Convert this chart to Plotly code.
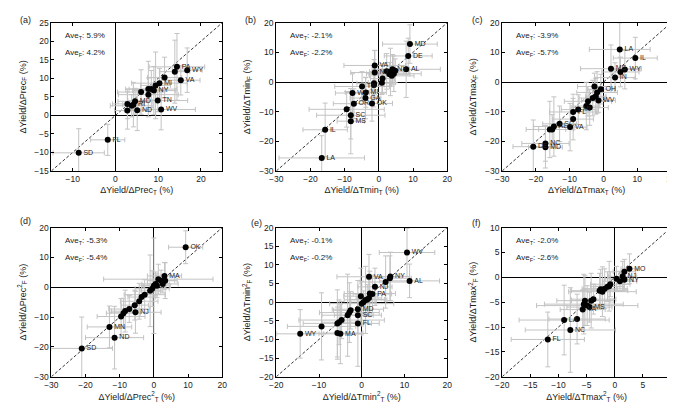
import plotly.graph_objects as go
from plotly.subplots import make_subplots

# ---------------- data ----------------
# panel (a) precipitation
lab_a = ["SD","FL","","","RI","MD","ND","","","","","","NY","","MI","","TN","WV","VA","","PA","WY"]
x_a = [-8.6,-1.8,2.8,2.8,4.2,4.6,5.1,3.8,6.0,7.7,7.7,8.4,9.0,9.4,10.3,11.5,9.9,10.7,15.3,13.9,14.4,16.8]
y_a = [-10.1,-6.6,1.3,3.1,2.9,3.8,1.4,2.6,6.3,5.6,7.1,7.1,6.7,8.1,8.7,10.2,4.0,1.6,9.5,11.8,13.1,12.2]
ex_a = [6.0,4.0,3.0,3.5,2.5,4.0,3.0,5.0,5.5,7.0,4.5,6.0,5.0,3.5,6.5,4.0,7.0,8.0,4.5,3.5,6.5,3.5]
ey_a = [6.5,4.2,5.0,4.0,6.0,3.5,5.5,3.0,6.0,4.5,7.5,5.0,6.5,9.0,4.0,5.5,3.0,5.5,4.0,8.5,9.0,6.0]

# panel (b) Tmin
lab_b = ["LA","IL","","SC","MS","OR","WI","TN","MI","GA","OK","","","VA","NJ","","","","","","NY","","","","AL","DE","MD"]
x_b = [-16.7,-15.7,-9.4,-8.2,-8.2,-7.3,-7.7,-4.9,-3.8,-3.9,-2.0,-1.4,-1.4,-1.2,-1.2,0.9,1.1,2.3,3.1,3.4,4.0,4.4,4.8,3.8,8.0,8.6,9.1]
y_b = [-25.6,-16.1,-9.2,-11.2,-13.2,-7.3,-3.7,-1.5,-3.5,-5.4,-7.2,-0.4,-1.0,5.6,3.2,-0.2,1.2,3.6,2.6,3.4,4.3,2.8,3.8,2.1,4.3,8.8,12.8]
ex_b = [12.5,6.5,11.0,10.0,4.0,6.0,5.0,8.0,6.0,4.5,6.0,5.0,3.0,9.0,7.0,4.0,3.5,5.0,6.0,4.0,5.0,8.0,4.0,6.5,10.0,7.0,8.0]
ey_b = [7.5,9.0,6.0,8.0,11.0,5.0,6.5,5.0,5.0,7.0,6.0,8.0,4.0,5.0,7.5,4.0,5.0,6.0,4.0,8.0,5.0,6.0,4.0,3.5,9.5,6.0,6.5]

# panel (c) Tmax
lab_c = ["DE","NC","MD","","","AL","SC","VA","","FL","MI","","","","","","OH","","WV","","IN","MS","","WY","LA","IL"]
x_c = [-20.8,-17.2,-17.2,-15.9,-15.2,-14.7,-13.0,-9.9,-9.0,-9.0,-7.5,-5.1,-4.1,-4.6,-3.2,-2.7,-0.8,-1.9,-1.5,-2.3,3.4,2.2,5.0,6.3,4.8,9.4]
y_c = [-21.8,-20.7,-22.0,-16.0,-16.0,-15.0,-14.1,-15.2,-12.5,-10.1,-9.3,-8.1,-8.6,-6.5,-5.4,-1.5,-2.4,-3.5,-6.2,-4.8,1.5,4.5,3.4,4.2,11.0,8.1]
ex_c = [6.0,7.0,5.0,7.0,4.0,6.0,5.0,5.0,6.0,7.0,5.0,4.0,5.5,7.0,4.0,5.0,4.0,6.0,5.0,3.0,6.0,9.0,5.5,4.5,9.0,6.5]
ey_c = [9.0,6.0,7.0,9.5,5.0,10.0,6.0,8.0,7.0,6.0,5.0,8.0,6.0,5.0,6.0,4.5,5.0,7.0,4.0,6.0,5.0,8.0,5.0,6.5,9.0,7.0]

# panel (d) Prec^2
lab_d = ["SD","ND","MN","","","","","NJ","","","","","","","","","","","","MA","","","OK"]
x_d = [-21.1,-11.5,-13.0,-9.6,-8.9,-8.4,-7.2,-5.4,-5.6,-4.3,-3.6,-2.7,-1.1,-0.5,0.0,0.5,0.9,1.3,2.1,3.1,3.3,2.6,9.3]
y_d = [-20.5,-16.9,-13.3,-9.8,-8.7,-8.0,-7.3,-8.4,-6.0,-4.7,-3.3,-2.5,-1.2,-0.5,0.5,1.1,0.5,2.7,2.2,3.8,2.2,1.1,13.4]
ex_d = [9.0,8.5,6.5,7.0,5.0,4.0,6.0,7.5,4.0,5.5,4.0,6.0,3.0,5.0,3.5,4.0,4.0,16.0,4.0,5.0,3.5,4.5,5.0]
ey_d = [10.5,10.5,7.0,6.0,5.0,7.0,4.5,7.0,5.0,6.0,4.0,5.0,12.0,6.0,16.0,4.0,4.0,5.0,3.5,4.5,6.0,3.0,5.5]

# panel (e) Tmin^2
lab_e = ["WY","","","MA","","","","","","","SC","MD","FL","","","","","","","","PA","NJ","VA","","","NY","AL","WV"]
x_e = [-14.4,-9.4,-5.7,-5.0,-5.7,-5.3,-4.7,-3.3,-2.9,-2.6,-0.9,-0.9,-0.9,-0.2,0.0,0.4,0.9,1.3,1.7,1.9,2.5,3.1,1.7,5.6,6.6,6.7,11.2,10.6]
y_e = [-8.5,-6.5,-8.3,-8.5,-5.7,-5.4,-4.8,-3.5,-2.8,-2.2,-3.5,-1.9,-5.7,1.6,-0.4,0.0,0.6,0.7,1.1,2.3,2.2,4.1,6.8,5.4,6.4,6.9,5.7,13.3]
ex_e = [5.5,8.0,6.0,5.0,8.0,4.0,10.0,6.0,7.0,4.0,5.5,6.0,5.0,4.0,7.5,3.0,5.0,4.0,3.0,6.0,4.5,4.0,7.5,6.0,5.0,4.5,7.0,6.5]
ey_e = [6.5,9.0,7.0,8.0,9.0,6.0,5.0,11.0,8.0,5.0,5.0,4.0,11.5,7.5,6.0,3.0,9.0,4.0,5.0,6.0,5.0,5.0,6.0,7.0,6.0,6.5,4.5,6.5]

# panel (f) Tmax^2
lab_f = ["FL","LA","NC","","VA","","","","MS","","","","","","","","","","","","NJ","","NY","MO"]
x_f = [-11.9,-9.0,-7.9,-6.7,-5.7,-5.5,-5.3,-4.9,-4.5,-4.2,-3.8,-2.7,-2.5,-2.2,-1.8,-1.3,-1.0,-0.8,0.3,0.9,1.4,1.7,1.7,2.6]
y_f = [-12.5,-8.6,-10.6,-8.4,-6.5,-5.4,-4.7,-5.7,-6.0,-4.7,-4.4,-2.7,-2.4,-2.9,-2.3,-1.9,-1.8,-1.4,-0.3,-0.8,0.2,1.1,-0.5,1.7]
ex_f = [6.5,8.0,8.0,5.0,4.0,7.0,5.0,9.0,4.0,3.5,4.0,5.0,3.0,6.0,4.0,3.0,2.5,3.5,2.0,3.0,2.5,2.0,1.5,1.5]
ey_f = [5.5,7.0,8.5,5.0,4.0,6.0,5.0,4.0,3.0,5.5,3.0,3.5,4.0,5.0,4.0,3.0,5.0,2.5,2.5,2.0,3.0,2.5,2.0,3.0]

ave_T = ["5.9", "-2.1", "-3.9", "-5.3", "-0.1", "-2.0"]
ave_F = ["4.2", "-2.2", "-5.7", "-5.4", "-0.2", "-2.6"]
panel_tags = ["(a)", "(b)", "(c)", "(d)", "(e)", "(f)"]
var_names = ["Prec", "Tmin", "Tmax", "Prec", "Tmin", "Tmax"]
squared = [False, False, False, True, True, True]
x_ranges = [[-15, 25], [-30, 20], [-30, 20], [-30, 20], [-20, 20], [-20, 10]]
y_ranges = [[-15, 25], [-30, 20], [-30, 20], [-30, 20], [-20, 20], [-20, 10]]
x_dticks = [10, 10, 10, 10, 10, 5]
y_dticks = [5, 10, 10, 10, 5, 5]

panels = [
    (x_a, y_a, ex_a, ey_a, lab_a),
    (x_b, y_b, ex_b, ey_b, lab_b),
    (x_c, y_c, ex_c, ey_c, lab_c),
    (x_d, y_d, ex_d, ey_d, lab_d),
    (x_e, y_e, ex_e, ey_e, lab_e),
    (x_f, y_f, ex_f, ey_f, lab_f),
]

# ---------------- figure ----------------
W, H = 675, 403
fig = make_subplots(rows=2, cols=3)

FONT = "Liberation Sans, Arial, sans-serif"
x_dom_px = [(37, 211), (266, 440), (496, 668)]
y_dom_px = [(10, 162), (220, 373)]
tag_pos_px = [(3, 7), (232, 7), (463, 7), (3, 213), (238, 215), (463, 215)]

for i, (xs, ys, exs, eys, labs) in enumerate(panels):
    r, c = i // 3 + 1, i % 3 + 1
    # error bars (drawn first)
    fig.add_trace(go.Scatter(
        x=xs, y=ys, mode="markers",
        marker=dict(size=6, color="rgba(0,0,0,0)"),
        error_x=dict(type="data", array=exs, color="rgb(195,195,195)", thickness=1, width=2.5),
        error_y=dict(type="data", array=eys, color="rgb(195,195,195)", thickness=1, width=2.5),
        showlegend=False, hoverinfo="skip"), row=r, col=c)
    # points and labels
    fig.add_trace(go.Scatter(
        x=xs, y=ys, mode="markers+text", text=labs,
        textposition="middle right",
        textfont=dict(size=7, color="#222", family=FONT),
        marker=dict(size=6, color="black"),
        showlegend=False), row=r, col=c)

    xa = "xaxis" if i == 0 else f"xaxis{i+1}"
    ya = "yaxis" if i == 0 else f"yaxis{i+1}"
    xref = "x" if i == 0 else f"x{i+1}"
    yref = "y" if i == 0 else f"y{i+1}"
    v = var_names[i]
    if squared[i]:
        xt = f"ΔYield/Δ{v}<sup>2</sup><sub>T</sub> (%)"
        yt = f"ΔYield/Δ{v}<sup>2</sup><sub>F</sub> (%)"
    else:
        xt = f"ΔYield/Δ{v}<sub>T</sub> (%)"
        yt = f"ΔYield/Δ{v}<sub>F</sub> (%)"
    x0, x1 = x_dom_px[c - 1]
    y0, y1 = y_dom_px[r - 1]
    common = dict(showline=True, linecolor="black", linewidth=1, mirror="allticks",
                  ticks="inside", ticklen=3, tickcolor="black", showgrid=False,
                  zeroline=True, zerolinecolor="black", zerolinewidth=1,
                  tickfont=dict(size=8.5, family=FONT, color="#222"))
    fig.layout[xa].update(domain=[x0 / W, x1 / W], range=x_ranges[i], dtick=x_dticks[i],
                          title=dict(text=xt, font=dict(size=9, family=FONT, color="#222"), standoff=3),
                          **common)
    fig.layout[ya].update(domain=[1 - y1 / H, 1 - y0 / H], range=y_ranges[i], dtick=y_dticks[i],
                          title=dict(text=yt, font=dict(size=9, family=FONT, color="#222"), standoff=6),
                          **common)
    lo = min(x_ranges[i][0], y_ranges[i][0])
    hi = max(x_ranges[i][1], y_ranges[i][1])
    fig.add_shape(type="line", xref=xref, yref=yref, x0=lo, y0=lo, x1=hi, y1=hi,
                  line=dict(color="black", width=0.8, dash="3px,2px"), layer="below")
    fig.add_annotation(xref=f"{xref} domain", yref=f"{yref} domain", x=0.07, y=0.955,
                       xanchor="left", yanchor="top", showarrow=False,
                       text=f"Ave<sub>T</sub>: {ave_T[i]}%",
                       font=dict(size=8, family=FONT, color="#222"))
    fig.add_annotation(xref=f"{xref} domain", yref=f"{yref} domain", x=0.07, y=0.845,
                       xanchor="left", yanchor="top", showarrow=False,
                       text=f"Ave<sub>F</sub>: {ave_F[i]}%",
                       font=dict(size=8, family=FONT, color="#222"))
    tx, ty = tag_pos_px[i]
    fig.add_annotation(xref="paper", yref="paper", x=tx / W, y=1 - ty / H,
                       xanchor="left", yanchor="middle", showarrow=False,
                       text=panel_tags[i], font=dict(size=9, family=FONT, color="#222"))

fig.update_layout(width=W, height=H, margin=dict(l=0, r=0, t=0, b=0),
                  plot_bgcolor="white", paper_bgcolor="white",
                  font=dict(family=FONT, color="#222"))

fig.write_html("out.html")
